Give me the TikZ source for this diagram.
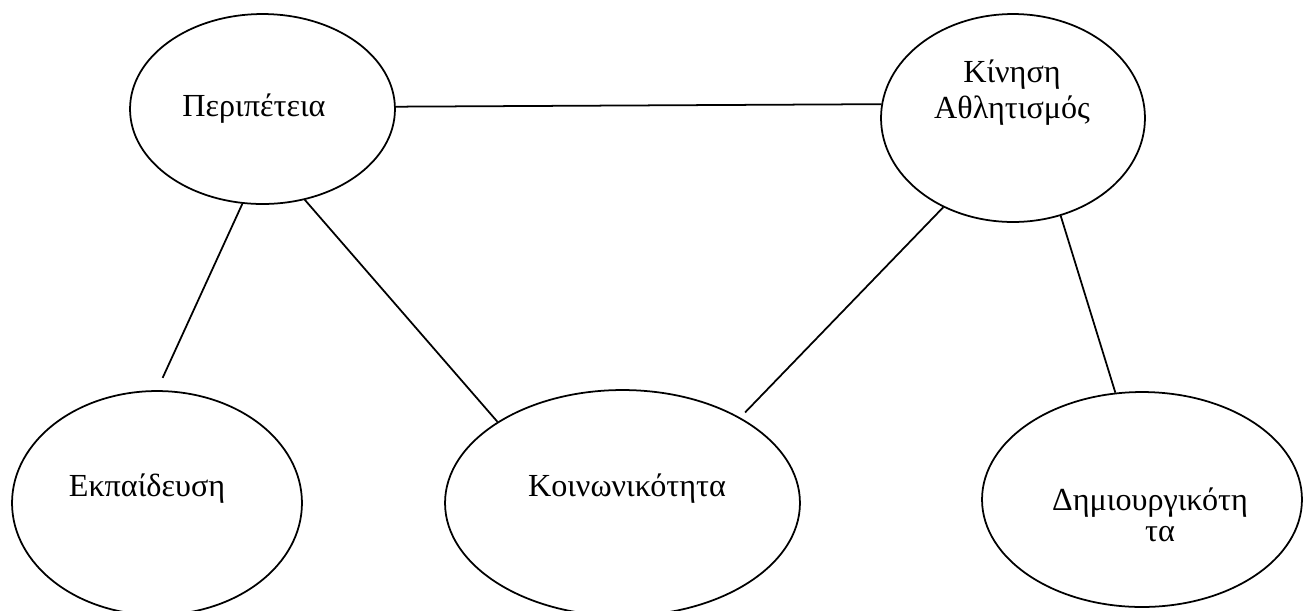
\documentclass[tikz,border=0pt]{standalone}
\usepackage{fontspec}
\setmainfont{Liberation Serif}
\usepackage{tikz}
\usetikzlibrary{shapes.geometric, positioning}
\tikzset{
  bubble/.style={ellipse, draw=black, line width=1pt, inner sep=0pt},
  word/.style={font=\fontsize{18.3}{20.9}\selectfont, align=center, inner sep=0pt},
  link/.style={line width=1pt, color=black}
}

\begin{document}
\begin{tikzpicture}[x=0.02cm, y=-0.02cm]
  \useasboundingbox (0,0) rectangle (1303,610);

  % Bubbles
  \node[bubble, minimum width=5.3cm, minimum height=3.8cm] (adv) at (262.5,109) {};
  \node[bubble, minimum width=5.28cm, minimum height=4.16cm] (kin) at (1013,118) {};
  \node[bubble, minimum width=5.8cm, minimum height=4.48cm] (edu) at (157,503) {};
  \node[bubble, minimum width=7.1cm, minimum height=4.52cm] (soc) at (622.5,503) {};
  \node[bubble, minimum width=6.4cm, minimum height=4.3cm] (cre) at (1142,499.5) {};

  % Texts
  \node[word, anchor=base] (adv-txt) at (254,116.7) {Περιπέτεια};
  \node[word] (kin-txt) at (1012,92.5) {Κίνηση\\Αθλητισμός};
  \node[word, anchor=base] (edu-txt) at (147,496.7) {Εκπαίδευση};
  \node[word, anchor=base] (soc-txt) at (627,496.7) {Κοινωνικότητα};
  \node[word, font=\fontsize{18.3}{17.5}\selectfont] (cre-txt) at (1150,515) {Δημιουργικότη\\\hspace*{0.4cm}τα};

  % Links
  \draw[link] (adv.1) -- (kin.174);
  \draw[link, shorten >=0.27cm] (adv.258) -- (edu.90);
  \draw[link] (adv.-65) -- (soc.147);
  \draw[link, shorten >=0.14cm] (kin.232) -- (soc.36);
  \draw[link] (kin.-64) -- (cre.104);
\end{tikzpicture}
\end{document}
